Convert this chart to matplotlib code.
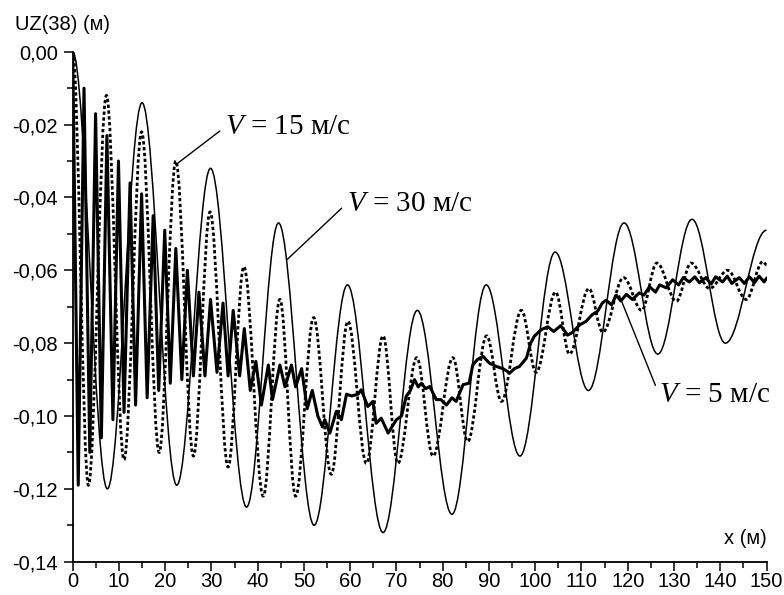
import matplotlib
matplotlib.use("Agg")
import matplotlib.pyplot as plt
from matplotlib.path import Path
from matplotlib.patches import PathPatch
from matplotlib.ticker import MultipleLocator, FuncFormatter

# --- data ---
# V = 30 m/s : extrema (peaks / troughs) of the thin smooth curve
v30_x = [0.0, 7.5, 15.0, 22.5, 29.8, 37.6, 44.5, 52.2, 59.4, 67.1, 74.5,
         82.0, 89.4, 96.7, 104.3, 111.5, 119.2, 126.5, 133.9, 141.1, 150.0]
v30_y = [0.000, -0.120, -0.014, -0.119, -0.032, -0.125, -0.047, -0.130,
         -0.064, -0.132, -0.071, -0.127, -0.064, -0.111, -0.055, -0.093,
         -0.047, -0.083, -0.046, -0.080, -0.049]

# V = 15 m/s : extrema of the dashed curve
v15_x = [0.0, 3.4, 7.3, 11.1, 14.9, 18.7, 22.3, 26.1, 29.7, 33.6, 37.0,
         41.2, 44.8, 48.2, 52.1, 55.9, 59.5, 63.5, 67.1, 70.3, 74.4, 77.9,
         82.2, 85.4, 89.5, 92.7, 97.0, 100.2, 104.4, 107.4, 111.6, 114.6,
         119.1, 123.0, 126.3, 130.5, 133.7, 137.7, 141.6, 145.6, 149.2, 150.0]
v15_y = [0.000, -0.119, -0.012, -0.112, -0.022, -0.110, -0.030, -0.111,
         -0.044, -0.114, -0.059, -0.122, -0.068, -0.122, -0.073, -0.116,
         -0.074, -0.113, -0.078, -0.113, -0.084, -0.111, -0.084, -0.107,
         -0.078, -0.096, -0.071, -0.088, -0.066, -0.083, -0.065, -0.077,
         -0.062, -0.071, -0.058, -0.0685, -0.058, -0.065, -0.060, -0.068,
         -0.0576, -0.0585]

# V = 5 m/s : thick curve, traced point by point
v5_x = [0.0, 1.2, 2.45, 3.7, 4.95, 6.2, 7.4, 8.7, 9.9, 11.1, 12.4, 13.6,
        14.9, 16.1, 17.4, 18.6, 19.9, 21.1, 22.3, 23.6, 24.8, 26.1, 27.3,
        28.6, 29.8, 31.2, 32.5, 33.6, 34.7, 36.1, 37.1, 38.4, 39.6, 40.8,
        42.3, 43.2, 44.8, 45.9, 47.3, 48.2, 49.5, 50.7, 51.8, 53.0, 54.0,
        54.5, 55.6, 57.0, 58.1, 59.2, 60.3, 61.7, 62.4, 63.8, 64.9, 65.6,
        66.7, 68.2, 69.3, 70.0, 71.1, 72.1, 73.0, 73.9, 74.7, 75.4, 76.3,
        77.2, 78.6, 79.6, 80.8, 82.0, 82.9, 84.4, 85.7, 86.5, 87.5, 88.7,
        90.1, 91.6, 93.0, 94.5, 95.5, 96.6, 98.1, 99.0, 99.8, 101.3, 102.7,
        104.0, 105.5, 107.0, 108.1, 109.6, 111.0, 112.3, 113.5, 114.5,
        115.3, 116.5, 117.5, 118.5, 119.7, 121.0, 122.5, 123.5, 124.7,
        126.0, 126.9, 128.3, 129.7, 131.0, 132.0, 133.3, 134.5, 135.5,
        136.9, 138.0, 139.0, 140.5, 141.5, 142.5, 144.1, 145.2, 146.3,
        147.4, 148.4, 149.5, 150.0]
v5_y = [0.000, -0.119, -0.010, -0.110, -0.017, -0.106, -0.023, -0.101,
        -0.030, -0.099, -0.036, -0.097, -0.039, -0.095, -0.045, -0.093,
        -0.049, -0.091, -0.054, -0.090, -0.060, -0.089, -0.066, -0.089,
        -0.068, -0.088, -0.069, -0.089, -0.071, -0.089, -0.076, -0.093,
        -0.085, -0.097, -0.086, -0.0955, -0.086, -0.092, -0.086, -0.092,
        -0.087, -0.098, -0.093, -0.100, -0.103, -0.101, -0.1047, -0.0987,
        -0.101, -0.094, -0.0945, -0.094, -0.0928, -0.0974, -0.096, -0.102,
        -0.1006, -0.1047, -0.1024, -0.101, -0.100, -0.0946, -0.093, -0.090,
        -0.092, -0.091, -0.0925, -0.0919, -0.0955, -0.0955, -0.097, -0.095,
        -0.096, -0.0914, -0.091, -0.086, -0.0845, -0.0836, -0.0855, -0.0864,
        -0.087, -0.0882, -0.087, -0.0864, -0.0841, -0.080, -0.0781, -0.0763,
        -0.0755, -0.0768, -0.0752, -0.0778, -0.0770, -0.0750, -0.0740,
        -0.0722, -0.0712, -0.0690, -0.0682, -0.0695, -0.0668, -0.0684,
        -0.0666, -0.0680, -0.0662, -0.0668, -0.0645, -0.0660, -0.0640,
        -0.0648, -0.0626, -0.0640, -0.0620, -0.0632, -0.0618, -0.0634,
        -0.0620, -0.0638, -0.0618, -0.0632, -0.0616, -0.0636, -0.0620,
        -0.0636, -0.0618, -0.0634, -0.0616, -0.0632, -0.0622]

labels = ["$V$ = 15 м/с", "$V$ = 30 м/с", "$V$ = 5 м/с"]
label_point = [(22.3, -0.031), (46.4, -0.057), (118.2, -0.067)]
label_text = [(32.9, -0.0207), (59.2, -0.0417), (126.8, -0.0942)]


def smooth_path(xs, ys, k=0.36):
    # extrema joined by curves with flat tangents at each extremum
    verts = [(xs[0], ys[0])]
    codes = [Path.MOVETO]
    for i in range(1, len(xs)):
        dx = xs[i] - xs[i - 1]
        verts += [(xs[i - 1] + k * dx, ys[i - 1]),
                  (xs[i] - k * dx, ys[i]),
                  (xs[i], ys[i])]
        codes += [Path.CURVE4] * 3
    return Path(verts, codes)


plt.rcParams['font.family'] = ['Liberation Sans', 'DejaVu Sans']
plt.rcParams['mathtext.fontset'] = 'custom'
plt.rcParams['mathtext.it'] = 'Liberation Serif:italic'
plt.rcParams['mathtext.rm'] = 'Liberation Serif'

fig = plt.figure(figsize=(7.84, 5.95), dpi=100)
ax = fig.add_axes([0.0927, 0.056, 0.885, 0.857])

ax.add_patch(PathPatch(smooth_path(v30_x, v30_y), fill=False,
                       lw=1.1, edgecolor='black'))
ax.add_patch(PathPatch(smooth_path(v15_x, v15_y), fill=False,
                       lw=2.0, edgecolor='black', linestyle=(0, (1.2, 0.9))))
ax.plot(v5_x, v5_y, color='black', lw=2.2, solid_joinstyle='round')

ax.set_xlim(0, 150)
ax.set_ylim(-0.14, 0.0)

for s in ['top', 'right']:
    ax.spines[s].set_visible(False)
for s in ['left', 'bottom']:
    ax.spines[s].set_linewidth(1.3)

ax.xaxis.set_major_locator(MultipleLocator(10))
ax.xaxis.set_minor_locator(MultipleLocator(5))
ax.yaxis.set_major_locator(MultipleLocator(0.02))
ax.yaxis.set_minor_locator(MultipleLocator(0.01))


def comma_fmt(v, pos):
    if abs(v) < 1e-9:
        return "0,00"
    return ("%.2f" % v).replace('.', ',')


ax.yaxis.set_major_formatter(FuncFormatter(comma_fmt))
ax.tick_params(which='major', direction='out', length=6.5, width=1.1,
               labelsize=14.5)
ax.tick_params(which='minor', direction='out', length=4.3, width=1.1)
ax.tick_params(axis='y', pad=4)
ax.tick_params(axis='x', pad=1)

fig.text(15 / 784, 1 - 24 / 595, "UZ(38) (м)", fontsize=14.5,
         ha='left', va='center')
ax.text(1.0, 0.046, "x (м)", fontsize=14.5, ha='right', va='center',
        transform=ax.transAxes)

for lab, pt, tx in zip(labels, label_point, label_text):
    ax.annotate(lab, xy=pt, xytext=tx, ha='left', va='center',
                fontsize=21, family=['Liberation Serif', 'DejaVu Serif'],
                arrowprops=dict(arrowstyle='-', lw=1.0, color='black',
                                relpos=(0, 0.5), shrinkA=2, shrinkB=0))

fig.savefig("out.png", dpi=100)
